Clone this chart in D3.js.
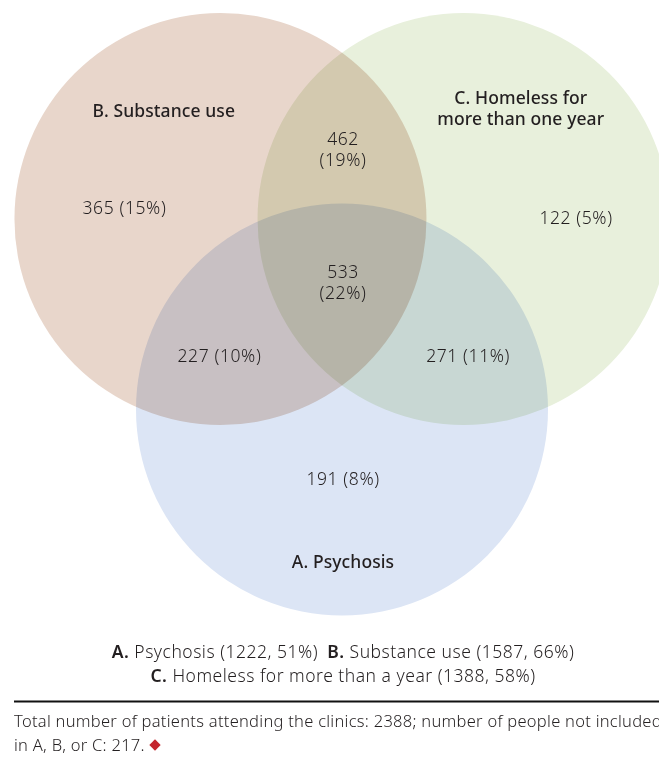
<!DOCTYPE html>
<html>
<head>
<meta charset="utf-8">
<script src="https://cdn.jsdelivr.net/npm/d3@7"></script>
<style>
  html, body { margin: 0; padding: 0; background: #fff; overflow: hidden; }
  svg { display: block; }
  text { font-family: "Noto Sans", sans-serif; fill: #231f20; }
</style>
</head>
<body>
<div id="chart"></div>
<script>
// ---- data ----
const setKeys = ["A", "B", "C"];
const setNames = ["Psychosis", "Substance use", "Homeless for more than a year"];
const setCircleLabels = [["A. Psychosis"], ["B. Substance use"], ["C. Homeless for", "more than one year"]];
const setTotals = [1222, 1587, 1388];
const setPercents = [51, 66, 58];
const setColors = ["#dce5f5", "#e8d6cb", "#e8f0dc"];

const regionSets = ["A", "B", "C", "AB", "AC", "BC", "ABC"];
const regionCounts = [191, 365, 122, 227, 271, 462, 533];
const regionPercents = [8, 15, 5, 10, 11, 19, 22];
const regionStacked = [false, false, false, false, false, true, true];

const totalPatients = 2388;
const notIncluded = 217;

// ---- layout ----
const W = 659, H = 760;
const svg = d3.select("#chart").append("svg").attr("width", W).attr("height", H);

// abstract venn coordinates (unit = circle radius)
const x = d3.scaleLinear().domain([-1, 1]).range([136, 548]);
const y = d3.scaleLinear().domain([-1, 1]).range([13, 425]);
const rUnit = x(1) - x(0);

const circleCenters = { A: [0, 0.925], B: [-0.59, 0], C: [0.59, 0] };
const regionAnchors = {
  A: [0.005, 1.291], B: [-1.056, -0.024], C: [1.136, 0.024],
  AB: [-0.595, 0.694], AC: [0.612, 0.694], BC: [0.005, -0.359], ABC: [0.005, 0.286]
};
const circleLabelAnchors = { A: [0.005, 1.694], B: [-0.865, -0.495], C: [0.868, -0.558] };

const gC = svg.append("g");
gC.selectAll("circle").data(setKeys).join("circle")
  .attr("cx", k => x(circleCenters[k][0]))
  .attr("cy", k => y(circleCenters[k][1]))
  .attr("r", rUnit)
  .attr("fill", (k, i) => setColors[i])
  .style("mix-blend-mode", "multiply");

// circle titles
setKeys.forEach((k, i) => {
  const t = svg.append("text")
    .attr("x", x(circleLabelAnchors[k][0]))
    .attr("y", y(circleLabelAnchors[k][1]))
    .attr("text-anchor", "middle")
    .attr("font-size", 17.5)
    .attr("font-weight", 550)
    .attr("letter-spacing", 0.1);
  setCircleLabels[i].forEach((line, j) => {
    t.append("tspan").attr("x", x(circleLabelAnchors[k][0])).attr("dy", j === 0 ? 0 : 21).text(line);
  });
});

// region counts
regionSets.forEach((s, i) => {
  const cx = x(regionAnchors[s][0]), cy = y(regionAnchors[s][1]);
  const t = svg.append("text").attr("x", cx).attr("y", cy)
    .attr("text-anchor", "middle").attr("font-size", 17.5).attr("font-weight", 300)
    .attr("letter-spacing", 0.6);
  if (regionStacked[i]) {
    t.append("tspan").attr("x", cx).attr("dy", 0).text(regionCounts[i]);
    t.append("tspan").attr("x", cx).attr("dy", 21).text(`(${regionPercents[i]}%)`);
  } else {
    t.text(`${regionCounts[i]} (${regionPercents[i]}%)`);
  }
});

// legend
const legendLines = [[0, 1], [2]];
legendLines.forEach((idxs, li) => {
  const t = svg.append("text").attr("x", 343).attr("y", 658 + li * 24)
    .attr("text-anchor", "middle").attr("font-size", 17.5).attr("font-weight", 300)
    .attr("letter-spacing", 0.5);
  idxs.forEach((i, j) => {
    t.append("tspan").attr("font-weight", 600).text((j > 0 ? "\u2002" : "") + setKeys[i] + ". ");
    t.append("tspan").attr("font-weight", 300).text(`${setNames[i]} (${setTotals[i]}, ${setPercents[i]}%)`);
  });
});

// rule
svg.append("line").attr("x1", 14).attr("x2", W).attr("y1", 701.5).attr("y2", 701.5)
  .attr("stroke", "#111").attr("stroke-width", 2);

// footer
const foot = svg.append("text").attr("x", 14).attr("y", 727).attr("font-size", 16.5).attr("font-weight", 300)
  .attr("letter-spacing", 0.27);
foot.append("tspan").attr("x", 14).attr("dy", 0)
  .text(`Total number of patients attending the clinics: ${totalPatients}; number of people not included`);
foot.append("tspan").attr("x", 14).attr("dy", 24).text(`in A, B, or C: ${notIncluded}.`);
const sym = d3.symbol().type(d3.symbolSquare).size(64);
svg.append("path").attr("d", sym())
  .attr("transform", "translate(155,745) rotate(45)")
  .attr("fill", "#c4262e");
</script>
</body>
</html>
